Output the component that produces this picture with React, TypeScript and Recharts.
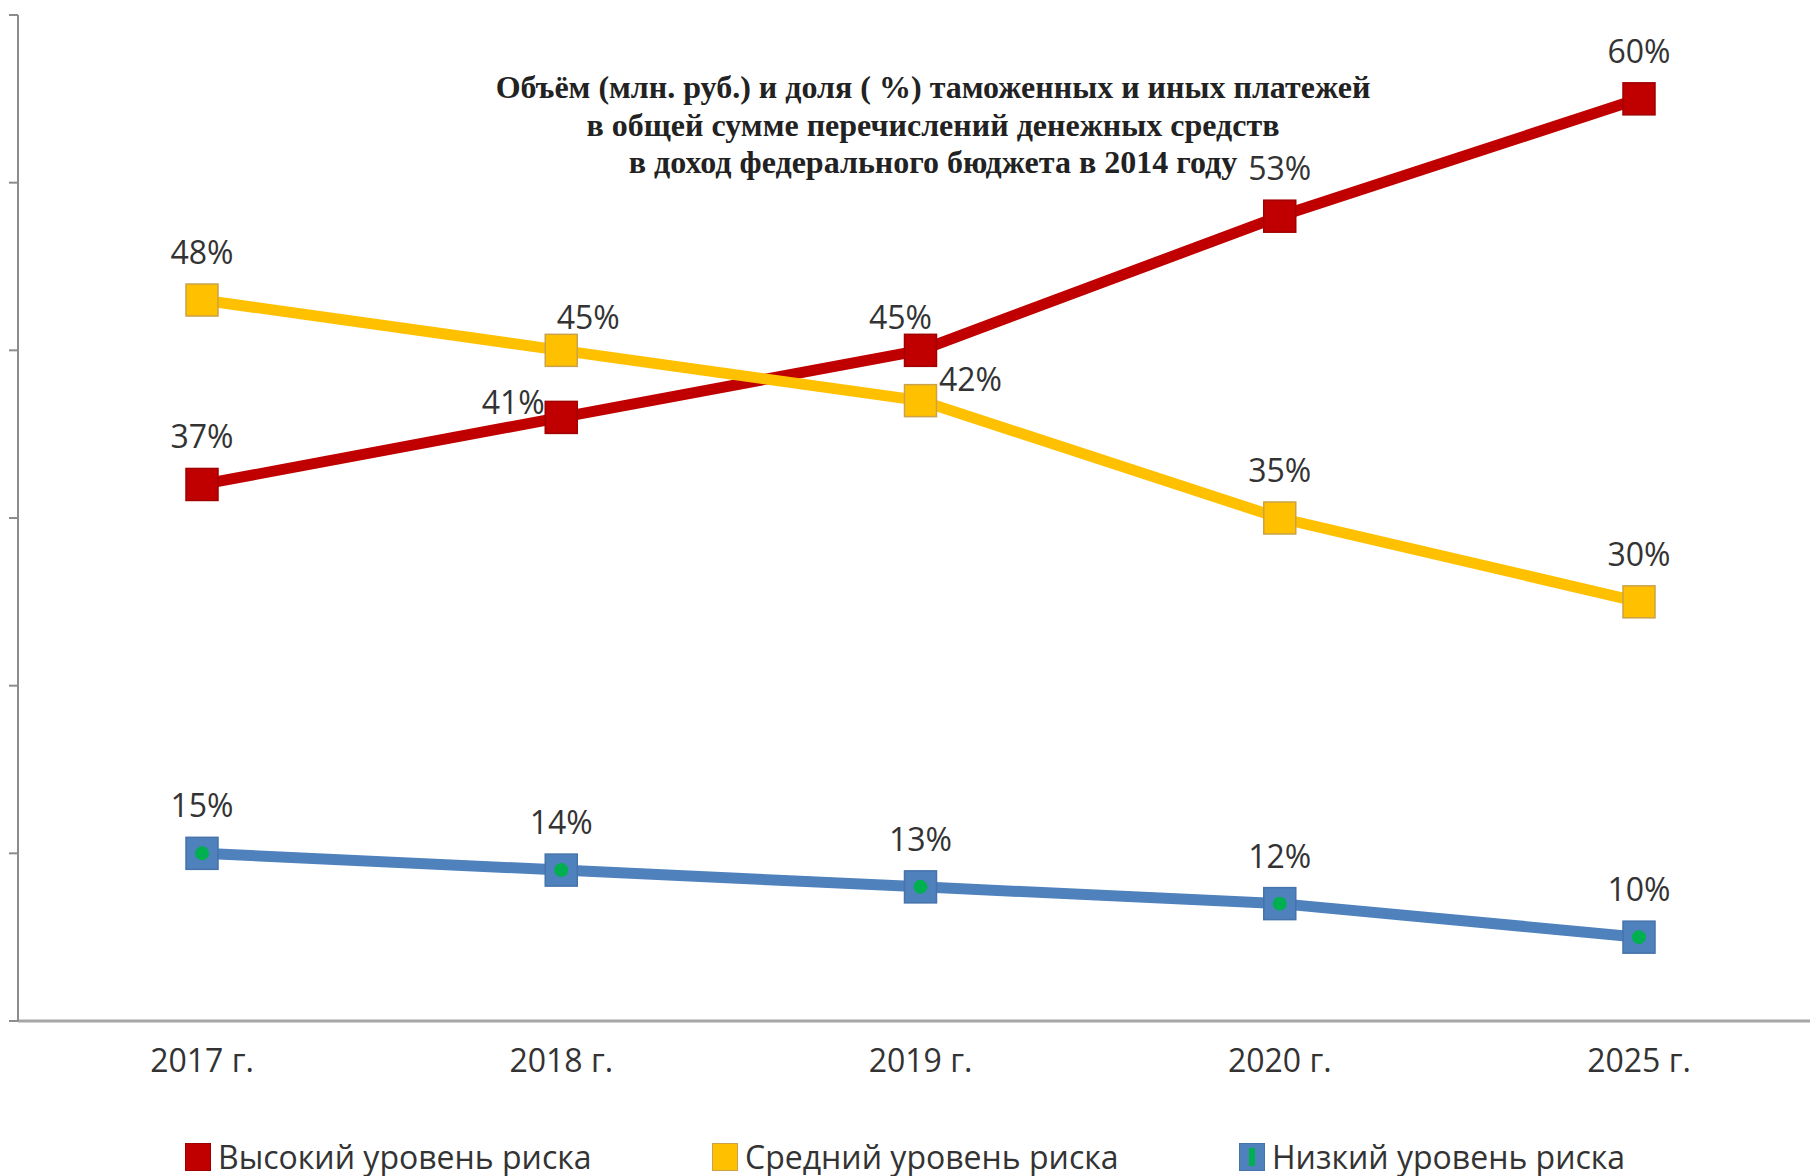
import React from 'react';
import { LineChart, Line, XAxis, YAxis, Legend, LabelList } from 'recharts';

// chart data
const years = ['2017 г.', '2018 г.', '2019 г.', '2020 г.', '2025 г.'];
const highRisk = [37, 41, 45, 53, 60];
const mediumRisk = [48, 45, 42, 35, 30];
const lowRisk = [15, 14, 13, 12, 10];
const yTicks = [5, 15, 25, 35, 45, 55, 65];

const titleLines = [
  'Объём (млн. руб.) и доля ( %) таможенных и иных платежей',
  'в общей сумме перечислений денежных средств',
  'в доход федерального бюджета в 2014 году',
];

const series = [
  { key: 'high', name: 'Высокий уровень риска', color: '#c00000', edge: '#a00000', inner: null },
  { key: 'medium', name: 'Средний уровень риска', color: '#ffc000', edge: '#c9a24a', inner: null },
  { key: 'low', name: 'Низкий уровень риска', color: '#4f81bd', edge: '#4573aa', inner: '#00b050' },
];

const data = years.map((year, i) => ({
  year,
  high: highRisk[i],
  medium: mediumRisk[i],
  low: lowRisk[i],
}));

// label nudges where labels collide (px from the point, label centre)
const nudges: Record<string, Record<number, [number, number]>> = {
  high: { 1: [-48, -14], 2: [-20, -32] },
  medium: { 1: [27, -32], 2: [50, -21] },
  low: {},
};

const labelFont = '"Open Sans", sans-serif';

const SquareDot = (props: any) => {
  const { cx, cy, color, edge, inner } = props;
  if (cx == null || cy == null) return null;
  const s = 32;
  return (
    <g>
      <rect x={cx - s / 2} y={cy - s / 2} width={s} height={s} fill={color} stroke={edge} strokeWidth={1.5} />
      {inner && <circle cx={cx} cy={cy} r={7} fill={inner} />}
    </g>
  );
};

const makeLabel = (key: string) => (props: any) => {
  const { x, y, value, index } = props;
  const [dx, dy] = nudges[key][index] || [0, -47];
  return (
    <text
      x={x + dx}
      y={y + dy + 11}
      textAnchor="middle"
      fontFamily={labelFont}
      fontSize={32}
      fill="#333"
    >
      {value}%
    </text>
  );
};

const renderLegend = () => (
  <div style={{ display: 'flex', paddingLeft: 185, height: 40, alignItems: 'center' }}>
    {series.map((s) => (
      <div key={s.key} style={{ width: 527, display: 'flex', alignItems: 'center' }}>
        <svg width={26} height={28}>
          <rect x={0.5} y={0.5} width={25} height={27} fill={s.color} stroke={s.edge} />
          {s.inner && <rect x={10} y={5} width={6} height={18} fill={s.inner} />}
        </svg>
        <span style={{ marginLeft: 7, fontFamily: labelFont, fontSize: 32, color: '#333', lineHeight: '40px' }}>
          {s.name}
        </span>
      </div>
    ))}
  </div>
);

const NoTickText = () => <g />;

export default function App() {
  return (
    <div style={{ position: 'absolute', left: 0, top: 0, width: 1810, height: 1176, background: '#fff' }}>
      <LineChart width={1810} height={1176} data={data} margin={{ top: 15, right: 0, bottom: 55, left: 0 }}>
        <XAxis
          dataKey="year"
          padding={{ left: 184, right: 171 }}
          axisLine={{ stroke: '#a6a6a6', strokeWidth: 3 }}
          tickLine={false}
          tickSize={0}
          tickMargin={28}
          height={60}
          tick={{ fontFamily: labelFont, fontSize: 32, fill: '#333' }}
        />
        <YAxis
          width={18}
          domain={[5, 65]}
          ticks={yTicks}
          interval={0}
          tick={<NoTickText />}
          tickSize={9}
          axisLine={{ stroke: '#8c8c8c', strokeWidth: 2 }}
          tickLine={{ stroke: '#8c8c8c', strokeWidth: 2 }}
        />
        <Legend height={40} verticalAlign="bottom" content={renderLegend} wrapperStyle={{ top: 1137, bottom: 'auto', left: 0, width: 1810 }} />
        {series.map((s) => (
          <Line
            key={s.key}
            dataKey={s.key}
            name={s.name}
            stroke={s.color}
            strokeWidth={11}
            isAnimationActive={false}
            dot={(p: any) => <SquareDot key={`${s.key}-${p.index}`} {...p} color={s.color} edge={s.edge} inner={s.inner} />}
            activeDot={false}
          >
            <LabelList dataKey={s.key} content={makeLabel(s.key)} />
          </Line>
        ))}
      </LineChart>
      <div
        style={{
          position: 'absolute',
          left: 433,
          top: 69,
          width: 1000,
          textAlign: 'center',
          fontFamily: '"Liberation Serif", "Times New Roman", serif',
          fontWeight: 'bold',
          fontSize: 32,
          lineHeight: '37.5px',
          color: '#222',
        }}
      >
        {titleLines.map((t) => (
          <div key={t}>{t}</div>
        ))}
      </div>
    </div>
  );
}
